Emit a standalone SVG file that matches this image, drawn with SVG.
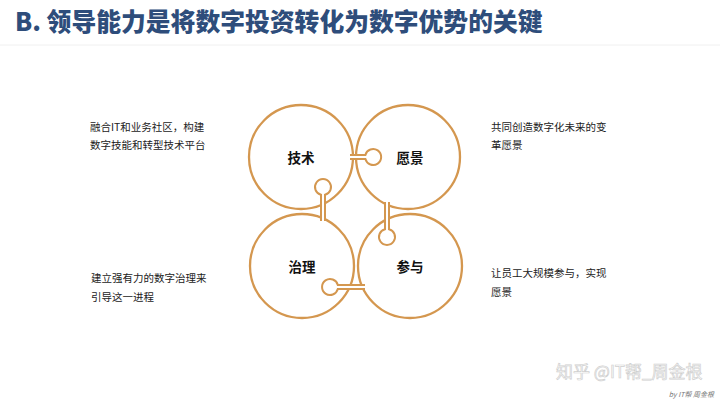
<svg xmlns="http://www.w3.org/2000/svg" width="720" height="403" viewBox="0 0 720 403">
<style>
.title{font-family:"Noto Sans CJK SC","Liberation Sans",sans-serif;font-weight:900;font-size:24.8px;fill:#2E4D7B}
.big{fill:#fff;stroke:#D4974F;stroke-width:2.3}
.key{fill:#fff;stroke:#D4974F;stroke-width:2}
.lbl{font-family:"Noto Sans CJK SC",sans-serif;font-weight:700;font-size:13.5px;fill:#111;text-anchor:middle}
.desc{font-family:"Noto Sans CJK SC",sans-serif;font-size:10.5px;fill:#222}
.wm{font-family:"Noto Sans CJK SC",sans-serif;font-size:17px;fill:#fff;stroke:#cfcfcf;stroke-width:0.7}
.by{font-family:"Noto Sans CJK SC",sans-serif;font-size:7px;font-style:italic;fill:#777;text-anchor:end}
</style>
<rect width="720" height="403" fill="#fff"/>
<text class="title" x="15" y="31">B. 领导能力是将数字投资转化为数字优势的关键</text>
<line x1="0" y1="45" x2="720" y2="45" stroke="#f0f0f0" stroke-width="1"/>

<g id="node-tech"><circle class="big" cx="301" cy="157" r="52"/></g>
<g id="node-vision"><circle class="big" cx="408" cy="157" r="52"/></g>
<g id="node-gov"><circle class="big" cx="302" cy="266" r="52"/></g>
<g id="node-part"><circle class="big" cx="410" cy="266" r="52"/></g>

<g id="connectors">
<path class="key" d="M350,155 L365.4,155 A8,8 0 1 1 365.4,159 L350,159"/>
<path class="key" d="M321,221 L321,194.8 A8,8 0 1 1 325,194.8 L325,221"/>
<path class="key" d="M385,202 L385,229.2 A8,8 0 1 0 389,229.2 L389,202"/>
<path class="key" d="M365,285 L337.8,285 A8,8 0 1 0 337.8,289 L365,289"/>
</g>

<text class="lbl" x="301" y="163">技术</text>
<text class="lbl" x="410" y="163">愿景</text>
<text class="lbl" x="302" y="272">治理</text>
<text class="lbl" x="410" y="272">参与</text>

<g id="desc-tech"><text class="desc" x="90" y="131">融合IT和业务社区，构建</text><text class="desc" x="90" y="149">数字技能和转型技术平台</text></g>
<g id="desc-vision"><text class="desc" x="491" y="131">共同创造数字化未来的变</text><text class="desc" x="491" y="149">革愿景</text></g>
<g id="desc-gov"><text class="desc" x="91" y="282">建立强有力的数字治理来</text><text class="desc" x="91" y="301">引导这一进程</text></g>
<g id="desc-part"><text class="desc" x="491" y="277">让员工大规模参与，实现</text><text class="desc" x="491" y="296">愿景</text></g>

<text class="wm" x="556" y="378">知乎 @IT帮_周金根</text>
<text class="by" x="714" y="397">by IT帮 周金根</text>
</svg>
